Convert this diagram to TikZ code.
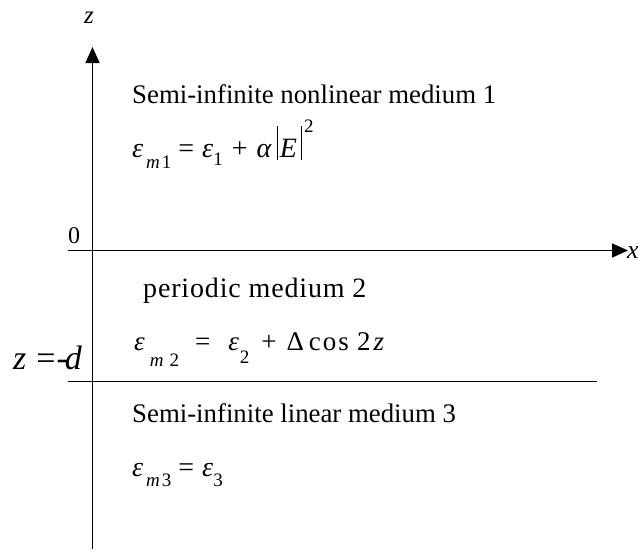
\documentclass[tikz,border=0pt]{standalone}
\usepackage{fontspec}
\setmainfont{Liberation Serif}
\newfontfamily\spacedfont[LetterSpace=3]{Liberation Serif}
\usetikzlibrary{arrows.meta}
\newcommand\eqsub[2]{\raisebox{-#1}{\fontsize{19}{20}\selectfont #2}}
\newcommand\eqsup[2]{\raisebox{#1}{\fontsize{19}{20}\selectfont #2}}
\newcommand\tallbar{\raisebox{-3pt}{\rule{1.2pt}{34pt}}}
\tikzset{
  lbl/.style={anchor=base west, inner sep=0pt, font=\fontsize{26.8}{30}\selectfont},
  eqn/.style={anchor=base west, inner sep=0pt, font=\fontsize{28}{30}\selectfont},
  axis/.style={line width=1.6pt, -{Triangle[length=16pt,width=14pt]}},
  plain/.style={line width=1.6pt}
}
\begin{document}
\begin{tikzpicture}[x=1pt,y=-1pt]
\useasboundingbox (0,0) rectangle (638,550);
\coordinate (zb) at (92.5,549);
\coordinate (zt) at (92.5,47);
\coordinate (xl) at (68,250.5);
\coordinate (xr) at (628,250.5);
\coordinate (dl) at (68,381.5);
\coordinate (dr) at (597,381.5);
\draw[axis] (zb) -- (zt);
\draw[axis] (xl) -- (xr);
\draw[plain] (dl) -- (dr);
\node[lbl, font=\fontsize{25}{30}\selectfont\itshape] (zlab) at (84,23) {z};
\node[lbl, font=\fontsize{26}{30}\selectfont\itshape] (xlab) at (627,258) {x};
\node[lbl, font=\fontsize{24}{28}\selectfont] (zero) at (68,243) {0};
\node[lbl, font=\fontsize{34}{38}\selectfont] (dlab) at (13,369) {\textit{z}\kern10pt=\kern1pt-\kern-3pt\textit{d}};
\node[lbl] (t1) at (132,103) {Semi-infinite nonlinear medium 1};
\node[eqn] (e1) at (132,157) {\textit{ε}\kern3pt\eqsub{11pt}{\textit{m}\kern2pt1}\kern7pt=\kern8pt\textit{ε}\eqsub{8pt}{1}\kern9pt+\kern9pt\textit{α}\kern5pt\tallbar\kern2pt\textit{E}\kern4pt\tallbar\kern2pt\eqsup{25pt}{2}};
\node[lbl, font=\fontsize{28}{30}\spacedfont] (t2) at (143,297) {periodic medium 2};
\node[eqn, font=\fontsize{27}{30}\selectfont] (e2) at (134,350) {\textit{ε}\kern5pt\eqsub{16pt}{\textit{m}\kern6pt2}\kern16pt=\kern18pt\textit{ε}\kern1pt\eqsub{13pt}{2}\kern12pt+\kern10pt Δ\kern5pt c\kern2pt o\kern2pt s\kern8pt 2\kern3pt\textit{z}};
\node[lbl] (t3) at (132,422) {Semi-infinite linear medium 3};
\node[eqn] (e3) at (132,476) {\textit{ε}\kern3pt\eqsub{10pt}{\textit{m}\kern2pt3}\kern7pt=\kern8pt\textit{ε}\eqsub{10pt}{3}};
\end{tikzpicture}
\end{document}
